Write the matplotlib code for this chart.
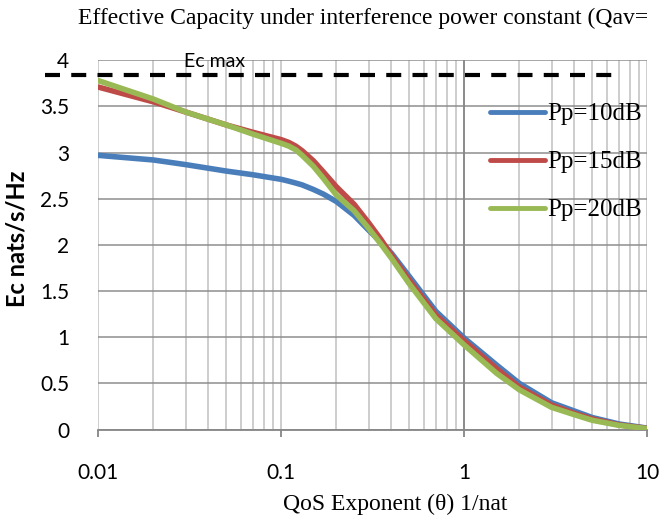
import matplotlib
matplotlib.use("Agg")
import matplotlib.pyplot as plt
from matplotlib.ticker import LogLocator, NullFormatter

# values
theta = [0.01, 0.02, 0.03, 0.05, 0.07, 0.1, 0.11, 0.12, 0.13, 0.15, 0.17,
         0.2, 0.25, 0.3, 0.35, 0.4, 0.5, 0.7, 1, 1.5, 2, 3, 4, 5, 7, 10]
pp10 = [2.97, 2.92, 2.87, 2.80, 2.76, 2.71, 2.69, 2.67, 2.65, 2.60, 2.55,
        2.47, 2.32, 2.16, 2.03, 1.91, 1.66, 1.28, 0.99, 0.70, 0.50, 0.29,
        0.20, 0.13, 0.06, 0.015]
pp15 = [3.71, 3.55, 3.44, 3.30, 3.22, 3.14, 3.11, 3.07, 3.02, 2.91, 2.79,
        2.63, 2.44, 2.24, 2.06, 1.89, 1.62, 1.24, 0.96, 0.66, 0.46, 0.265,
        0.175, 0.115, 0.05, 0.012]
pp20 = [3.78, 3.58, 3.44, 3.30, 3.20, 3.10, 3.07, 3.03, 2.97, 2.85, 2.72,
        2.54, 2.37, 2.18, 2.01, 1.855, 1.58, 1.20, 0.915, 0.61, 0.43, 0.24,
        0.16, 0.10, 0.045, 0.01]
labels = ["Pp=10dB", "Pp=15dB", "Pp=20dB"]
colors = ["#4A7EBB", "#BE4B48", "#98B954"]

ecmax = 3.84
ecmax_span = [0.0051, 6.45]

xticks = [0.01, 0.1, 1, 10]
xticklabels = ["0.01", "0.1", "1", "10"]
yticks = [0, 0.5, 1, 1.5, 2, 2.5, 3, 3.5, 4]
yticklabels = ["0", "0.5", "1", "1.5", "2", "2.5", "3", "3.5", "4"]

title = "Effective Capacity under interference power constant (Qav="
serif = "Liberation Serif"

plt.rcParams["font.family"] = ["Lato", "DejaVu Sans"]

fig = plt.figure(figsize=(6.6, 5.22), dpi=100)
ax = fig.add_axes([0.1489, 0.1772, 0.8318, 0.7073])

ax.set_xscale("log")
ax.set_xlim(0.01, 10)
ax.set_ylim(0, 4)

# grid
ax.xaxis.set_minor_locator(LogLocator(base=10, subs=range(2, 10)))
ax.xaxis.set_minor_formatter(NullFormatter())
ax.grid(True, which="both", axis="x", color="#C0C0C0", lw=1.1, zorder=0)
ax.grid(True, which="major", axis="y", color="#8E8E8E", lw=1.1, zorder=0)
ax.axvline(1, color="#868686", lw=1.3, zorder=1)
ax.set_axisbelow(True)

for s in ["top", "right", "left"]:
    ax.spines[s].set_visible(False)
ax.spines["bottom"].set_color("#868686")
ax.spines["bottom"].set_linewidth(1.3)

ax.set_xticks(xticks, xticklabels)
ax.set_yticks(yticks, yticklabels)
ax.tick_params(axis="x", which="major", length=5, width=1.3, color="#868686",
               pad=19, labelsize=15)
ax.tick_params(axis="x", which="minor", length=0)
ax.tick_params(axis="y", length=0, pad=21, labelsize=15)

# curves
for ys, lab, c in zip([pp10, pp15, pp20], labels, colors):
    ax.plot(theta, ys, color=c, lw=4, label=lab, solid_capstyle="round",
            solid_joinstyle="round", zorder=3)

# Ec max dashed line
ln, = ax.plot(ecmax_span, [ecmax, ecmax], color="black", lw=3, clip_on=False,
              zorder=4)
ln.set_dashes((3.6, 2.7))
ax.text(0.043, 3.99, "Ec max", fontsize=14, ha="center", va="center")

leg = ax.legend(loc="upper left", bbox_to_anchor=(0.7135, 0.885), frameon=False,
                borderpad=0, borderaxespad=0, handlelength=2.2,
                handletextpad=0.1, labelspacing=1.02,
                prop={"family": serif, "size": 18})
for h in leg.get_lines():
    h.set_linewidth(3.5)
    h.set_solid_capstyle("round")

fig.text(78 / 660, 1 - 24 / 522, title, family=serif, fontsize=17,
         ha="left", va="baseline")
fig.text(395 / 660, 12 / 522, "QoS Exponent (\u03b8) 1/nat", family=serif,
         fontsize=17, ha="center", va="baseline")
fig.text(17.5 / 660, 0.543, "Ec nats/s/Hz", fontsize=17, fontweight="bold",
         rotation=90, ha="center", va="center")

fig.savefig("out.png", dpi=100)
